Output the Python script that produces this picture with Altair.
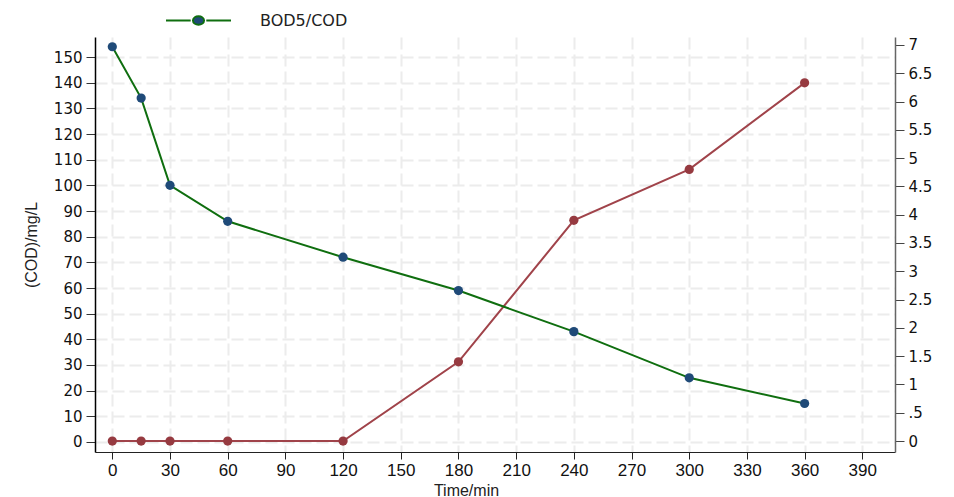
import altair as alt
import pandas as pd

time_min = [0, 15, 30, 60, 120, 180, 240, 300, 360]
cod = [154, 134, 100, 86, 72, 59, 43, 25, 15]
ratio = [0, 0, 0, 0, 0, 1.4, 3.9, 4.8, 6.33]
x_ticks = list(range(0, 391, 30))
y_left_ticks = list(range(0, 151, 10))
y_right_ticks = [i * 0.5 for i in range(15)]

df = pd.DataFrame({"t": time_min, "cod": cod, "ratio": ratio, "series": ["BOD5/COD"] * len(time_min)})

GREEN = "#0f6e0f"
NAVY = "#1f4a78"
RED_L = "#a0434a"
RED_P = "#963a40"

x_enc = alt.X("t:Q", scale=alt.Scale(domain=[-9, 407], nice=False, zero=False),
              axis=alt.Axis(values=x_ticks, title="Time/min", grid=True,
                            gridDash=[12, 5], gridColor="#ececec", gridWidth=2,
                            domainColor="#222", tickColor="#222", tickSize=7,
                            labelFont="Liberation Sans", labelFontSize=17, labelColor="#111",
                            labelPadding=3,
                            titleFont="Liberation Sans", titleFontSize=16,
                            titleFontWeight="normal", titleColor="#222",
                            titleX=371, titleY=38, titleBaseline="middle"))

yl = alt.Y("cod:Q", scale=alt.Scale(domain=[-3.9, 157.8], nice=False, zero=False),
           axis=alt.Axis(orient="left", values=y_left_ticks, title="(COD)/mg/L", grid=True,
                         gridDash=[12, 5], gridColor="#ececec", gridWidth=2,
                         domainColor="#000", domainWidth=1.5, tickColor="#333", tickSize=9,
                         labelFont="DejaVu Sans", labelFontSize=15, labelColor="#111",
                         labelPadding=4,
                         titleFont="Liberation Sans", titleFontSize=16,
                         titleFontWeight="normal", titleColor="#222", titlePadding=14))

yr = alt.Y("ratio:Q", scale=alt.Scale(domain=[-0.194, 7.14], nice=False, zero=False),
           axis=alt.Axis(orient="right", values=y_right_ticks, title=None, grid=False,
                         domainColor="#666", domainWidth=1.5, tickColor="#444", tickSize=9,
                         labelFont="DejaVu Sans", labelFontSize=15, labelColor="#111",
                         labelPadding=4, format="~g",
                         labelExpr="datum.value == 0.5 ? '.5' : datum.label"))

legend_path = ("M-1,0H-0.24M0.24,0H1"
               "M0.17,0A0.17,0.13,0,1,1,-0.17,0A0.17,0.13,0,1,1,0.17,0Z")

base = alt.Chart(df)

green_line = base.mark_line(color=GREEN, strokeWidth=2).encode(x=x_enc, y=yl)
green_pts = base.mark_point(filled=True, size=85, opacity=1).encode(
    x=x_enc, y=yl,
    color=alt.Color("series:N",
                    scale=alt.Scale(domain=["BOD5/COD"], range=[NAVY]),
                    legend=alt.Legend(title=None, orient="none", legendX=70, legendY=-50,
                                      symbolType=legend_path, symbolSize=4225,
                                      symbolStrokeColor=GREEN, symbolStrokeWidth=2,
                                      symbolFillColor=NAVY,
                                      labelFont="DejaVu Sans", labelFontSize=16,
                                      labelColor="#222", labelOffset=28)))
left = alt.layer(green_line, green_pts)

red_line = base.mark_line(color=RED_L, strokeWidth=2).encode(x=x_enc, y=yr)
red_pts = base.mark_point(filled=True, size=85, opacity=1, color=RED_P).encode(x=x_enc, y=yr)
right = alt.layer(red_line, red_pts)

chart = alt.layer(right, left).resolve_scale(y="independent").properties(
    width=800, height=415,
    autosize=alt.AutoSizeParams(type="none"),
    padding={"left": 95, "top": 37, "right": 59, "bottom": 45},
    background="white",
).configure_view(stroke=None)

chart.save("out.html", embed_options={"renderer": "svg", "actions": False})
